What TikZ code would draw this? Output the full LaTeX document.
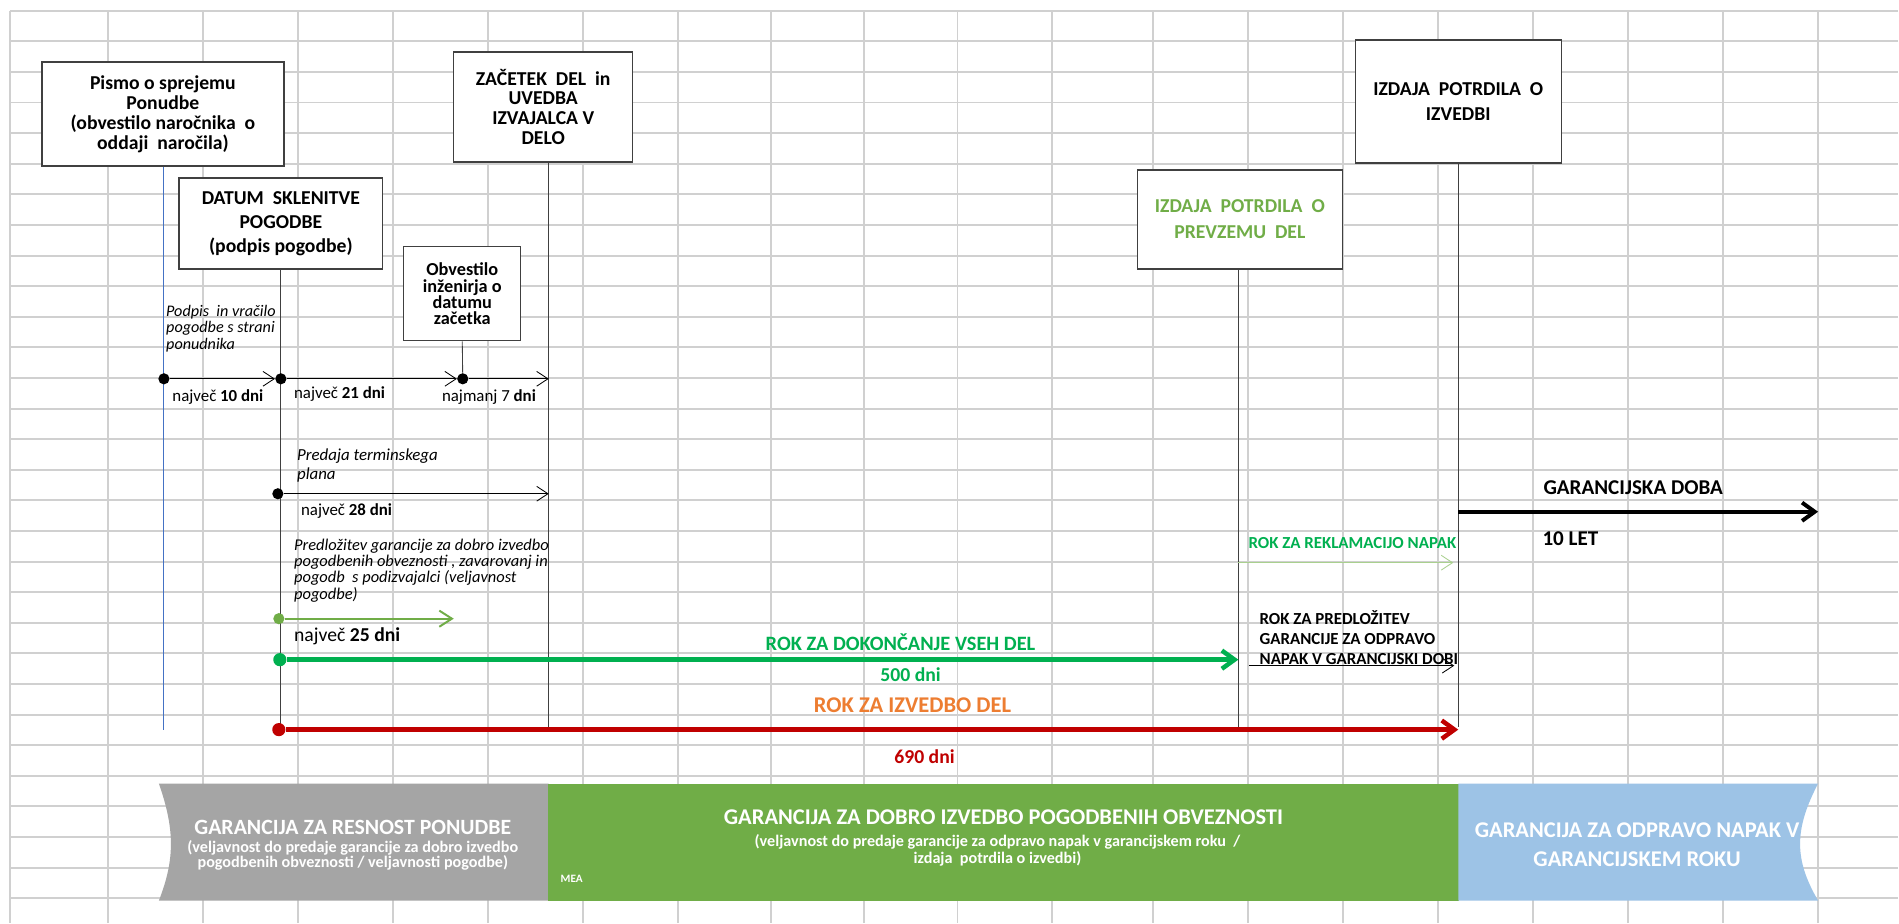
\documentclass[tikz,border=0pt]{standalone}
\usepackage{fontspec}
\setmainfont{Carlito}
\usepackage{xcolor}
\usepackage{tikz}
\usetikzlibrary{arrows.meta}

\definecolor{gridgray}{HTML}{D0D0D0}
\definecolor{boxgray}{HTML}{404040}
\definecolor{lgreen}{HTML}{70AD47}
\definecolor{xgreen}{HTML}{00B050}
\definecolor{pale}{HTML}{A9D08E}
\definecolor{xred}{HTML}{C00000}
\definecolor{xorange}{HTML}{ED7D31}
\definecolor{grayband}{HTML}{A5A5A5}
\definecolor{blueband}{HTML}{9DC3E6}
\definecolor{lineblue}{HTML}{4472C4}

\begin{document}
\begin{tikzpicture}[x=0.025cm,y=-0.025cm,
		gridline/.style={draw=gridgray,line width=1.4pt},
		box/.style={draw=boxgray,line width=0.9pt,fill=white,inner sep=0pt,align=center,
			font={\fontsize{14}{17}\selectfont\bfseries}},
		dot/.style={circle,fill,inner sep=0pt,minimum size=0.28cm},
		bigdot/.style={dot,minimum size=0.33cm},
		link/.style={draw=boxgray,line width=0.6pt},
		thin arrow/.style={-{Straight Barb[length=8pt,width=10.5pt]},line width=0.6pt},
		mid arrow/.style={-{Straight Barb[length=9pt,width=11.5pt]},line width=1.4pt},
		fat arrow/.style={-{Straight Barb[length=9pt,width=13pt]},line width=3.2pt},
		lbl/.style={inner sep=0pt,font={\fontsize{12}{14}\selectfont}},
		note/.style={inner sep=0pt,anchor=west,align=left,font={\fontsize{11.7}{11.6}\selectfont\itshape}},
		band/.style={inner sep=0pt,align=center,text=white,font={\fontsize{16}{20}\selectfont\bfseries}}]
	\fill[white] (0,0) rectangle (1899,923);
	%
	\foreach \gx in {10,108,203,298,393,488,583,678,771,864,958,1053,1154,1249,1344,1439,1534,1629,1724,1819}
		\draw[gridline] (\gx,10.7) -- (\gx,923);
	\foreach \gk in {0,...,29}
		\draw[gridline] (10,{10.7+30.62*\gk}) -- (1899,{10.7+30.62*\gk});
	%
	\fill[grayband] (159,784) .. controls (175,830) and (175,860) .. (159,901) -- (549,901) -- (549,784) -- cycle;
	\fill[lgreen] (548,784) rectangle (1460,901);
	\fill[blueband] (1459,784) -- (1819,784) .. controls (1795,830) and (1795,860) .. (1819,901) -- (1459,901) -- cycle;
	\node[band,font={\fontsize{15.5}{18}\selectfont\bfseries}] (resnost) at (353,828) {GARANCIJA ZA RESNOST PONUDBE};
	\node[band,font={\fontsize{11.5}{10.5}\selectfont\bfseries}] (resnostsub) at (353,856) {(veljavnost do predaje garancije za dobro izvedbo\\pogodbenih obveznosti / veljavnosti pogodbe)};
	\node[band] (dobro) at (1004,818) {GARANCIJA ZA DOBRO IZVEDBO POGODBENIH OBVEZNOSTI};
	\node[band,font={\fontsize{11.5}{12}\selectfont\bfseries}] (dobrosub) at (998,850.5) {(veljavnost do predaje garancije za odpravo napak v garancijskem roku\ \ /\\izdaja\ \ potrdila o izvedbi)};
	\node[band,font={\fontsize{8}{8}\selectfont\bfseries}] (mea) at (572,879) {MEA};
	\node[band,font={\fontsize{16}{20.6}\selectfont\bfseries}] (odpravo) at (1638,845.5) {GARANCIJA ZA ODPRAVO NAPAK V\\GARANCIJSKEM ROKU};
	%
	\node[box,minimum width=6.05cm,minimum height=2.6cm,font={\fontsize{14}{14.2}\selectfont\bfseries}] (pismo) at (163,114)
		{Pismo o sprejemu\\Ponudbe\\(obvestilo naročnika\ \ o\\oddaji\ \ naročila)};
	\node[box,minimum width=5.1cm,minimum height=2.275cm] (datum) at (281,223.5)
		{DATUM\ \ SKLENITVE\\POGODBE\\(podpis pogodbe)};
	\node[box,minimum width=2.925cm,minimum height=2.35cm,font={\fontsize{13}{11.6}\selectfont\bfseries}] (obvestilo) at (462.5,294)
		{Obvestilo\\inženirja o\\datumu\\začetka};
	\node[box,minimum width=4.475cm,minimum height=2.75cm,font={\fontsize{14}{14.2}\selectfont\bfseries}] (zacetek) at (543.5,107)
		{ZAČETEK\ \ DEL\ \ in\\UVEDBA\\IZVAJALCA V\\DELO};
	\node[box,minimum width=5.125cm,minimum height=2.475cm,text=lgreen,font={\fontsize{14}{18.5}\selectfont\bfseries}] (prevzem) at (1240.5,219.5)
		{IZDAJA\ \ POTRDILA\ \ O\\PREVZEMU\ \ DEL};
	\node[box,minimum width=5.15cm,minimum height=3.075cm,font={\fontsize{14}{17.8}\selectfont\bfseries}] (izvedba) at (1459,101.5)
		{IZDAJA\ \ POTRDILA\ \ O\\IZVEDBI};
	%
	\coordinate (pismoEnd) at (163,730);
	\coordinate (datumEnd) at (281,730);
	\coordinate (zacEnd) at (549,728);
	\coordinate (prevEnd) at (1239,728);
	\coordinate (izvEnd) at (1459,727);
	\draw[draw=lineblue,line width=0.5pt] (pismo.south) -- (pismoEnd);
	\draw[link] (datum.south) -- (datumEnd);
	\draw[link] (zacetek.south -| zacEnd) -- (zacEnd);
	\draw[link] (prevzem.south -| prevEnd) -- (prevEnd);
	\draw[link] (izvedba.south) -- (izvEnd);
	%
	\node[dot] (d1) at (164,379) {};
	\node[dot] (d2) at (281,379) {};
	\node[dot] (d3) at (463,379) {};
	\node[dot] (pd) at (278,494) {};
	\node[dot,fill=lgreen] (gp) at (279,619) {};
	\node[bigdot,fill=xgreen] (gd) at (280,660) {};
	\node[bigdot,fill=xred] (rd) at (279,730) {};
	\draw[link] (obvestilo.south) -- (d3);
	%
	\coordinate (gpEnd) at (454,619);
	\coordinate (dobaEnd) at (1819,512);
	\coordinate (reklEnd) at (1454,563);
	\coordinate (predStart) at (1250,666);
	\coordinate (predEnd) at (1455,666);
	\draw[thin arrow] (d1) -- (d2);
	\draw[thin arrow] (d2) -- (d3);
	\draw[thin arrow] (d3) -- (d3 -| zacEnd);
	\draw[thin arrow] (pd) -- (pd -| zacEnd);
	\draw[mid arrow,lgreen] (gp) -- (gpEnd);
	\draw[fat arrow,xgreen] (gd) -- (gd -| prevEnd);
	\draw[fat arrow,xred] (rd) -- (rd -| izvEnd);
	\draw[fat arrow,black,line width=2.8pt] (dobaEnd -| izvEnd) -- (dobaEnd);
	\draw[thin arrow,pale] (reklEnd -| prevEnd) -- (reklEnd);
	\draw[thin arrow] (predStart) -- (predEnd);
	%
	\node[lbl] (dni10) at (218,397) {največ \textbf{10 dni}};
	\node[lbl,anchor=west] (dni21) at (294,394) {največ \textbf{21 dni}};
	\node[lbl,anchor=west] (dni7) at (442,397) {najmanj 7 \textbf{dni}};
	\node[note,font={\fontsize{11.5}{11.7}\selectfont\itshape}] (podpis) at (166,328.7)
		{Podpis\ \ in vračilo\\pogodbe s strani\\ponudnika};
	\node[note,font={\fontsize{12}{13.5}\selectfont\itshape}] (predaja) at (297,465.5) {Predaja terminskega\\plana};
	\node[lbl,anchor=west] (dni28) at (301,511) {največ \textbf{28 dni}};
	\node[note] (predlozitev) at (294,570.75)
		{Predložitev garancije za dobro izvedbo\\pogodbenih obveznosti , zavarovanj in\\pogodb\ \ s podizvajalci (veljavnost\\pogodbe)};
	\node[lbl,anchor=west,font={\fontsize{14}{16}\selectfont}] (dni25) at (294,637) {največ \textbf{25 dni}};
	\node[lbl,text=xgreen,font={\fontsize{14.5}{16}\selectfont\bfseries}] (dokoncanje) at (901,643) {ROK ZA DOKONČANJE VSEH DEL};
	\node[lbl,text=xgreen,font={\fontsize{14}{16}\selectfont\bfseries}] (dni500) at (911,675) {500 dni};
	\node[lbl,text=xorange,font={\fontsize{16}{18}\selectfont\bfseries}] (izvedbodel) at (913,706) {ROK ZA IZVEDBO DEL};
	\node[lbl,text=xred,font={\fontsize{14}{16}\selectfont\bfseries}] (dni690) at (925,757) {690 dni};
	\node[lbl,anchor=west,font={\fontsize{15}{17}\selectfont\bfseries}] (doba) at (1544,488) {GARANCIJSKA DOBA};
	\node[lbl,anchor=west,font={\fontsize{15}{17}\selectfont\bfseries}] (let10) at (1543,539) {10 LET};
	\node[lbl,anchor=west,text=xgreen,font={\fontsize{12}{14}\selectfont\bfseries}] (reklamacija) at (1249,543) {ROK ZA REKLAMACIJO NAPAK};
	\node[note,font={\fontsize{12}{14.2}\selectfont\bfseries}] (predrok) at (1260,638)
		{ROK ZA PREDLOŽITEV\\GARANCIJE ZA ODPRAVO\\NAPAK V GARANCIJSKI DOBI};
\end{tikzpicture}
\end{document}
